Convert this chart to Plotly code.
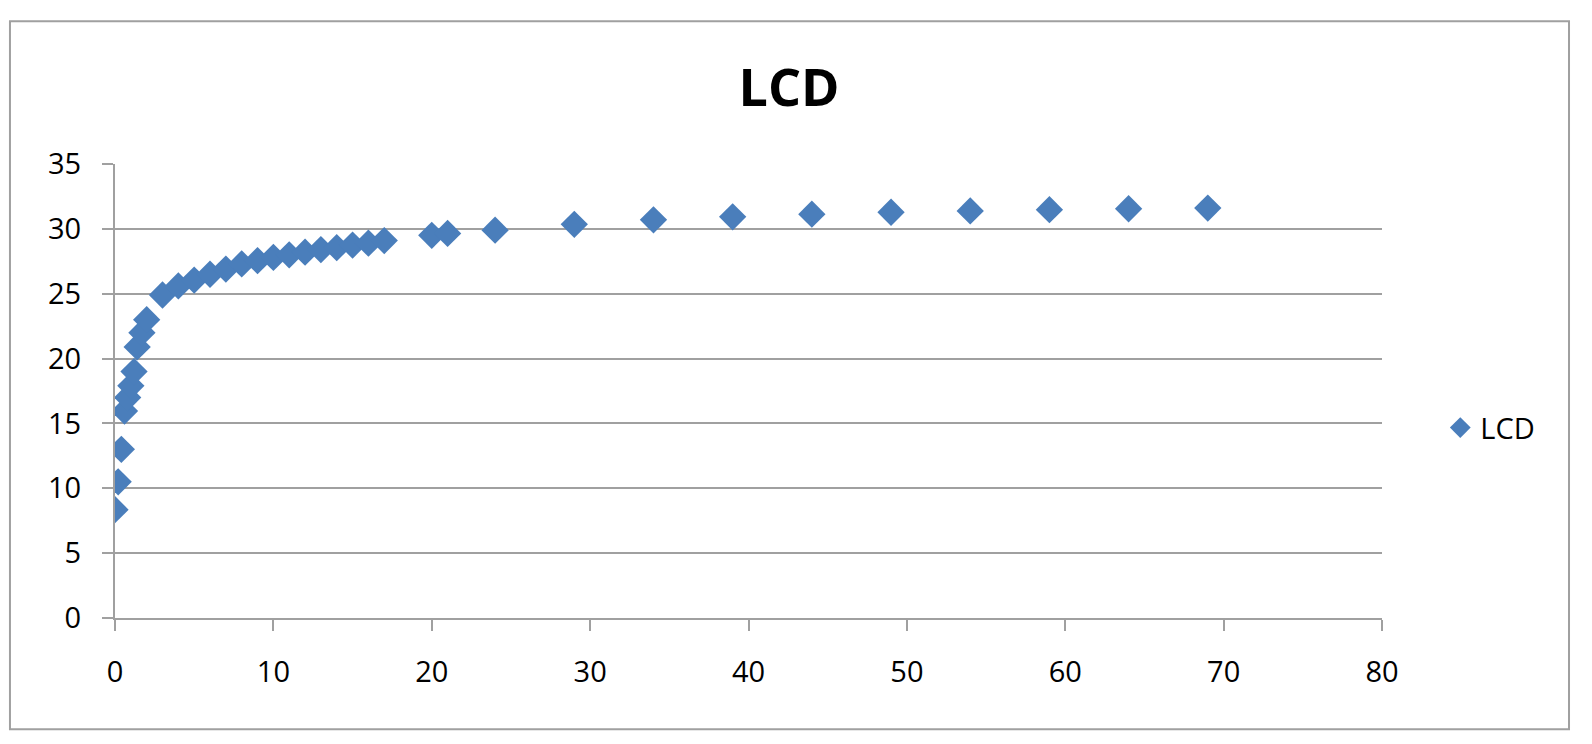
import plotly.graph_objects as go

# Values
time_x = [0, 0.2, 0.4, 0.6, 0.8, 1.0, 1.2, 1.4, 1.7, 2.0,
          3, 4, 5, 6, 7, 8, 9, 10, 11, 12, 13, 14, 15, 16, 17,
          20, 21, 24, 29, 34, 39, 44, 49, 54, 59, 64, 69]
lcd_y = [8.35, 10.5, 13.0, 15.95, 17.0, 17.9, 19.0, 20.9, 22.0, 23.0,
         24.9, 25.6, 26.05, 26.5, 26.9, 27.3, 27.55, 27.8, 28.0, 28.2, 28.4, 28.55, 28.75, 28.9, 29.1,
         29.5, 29.65, 29.9, 30.35, 30.7, 30.93, 31.13, 31.28, 31.38, 31.48, 31.55, 31.6]

x_ticks = [0, 10, 20, 30, 40, 50, 60, 70, 80]
y_ticks = [0, 5, 10, 15, 20, 25, 30, 35]

blue = "#4A7EBB"
grey = "#A0A0A0"
font = "Open Sans, Noto Sans, sans-serif"

fig = go.Figure()
fig.add_trace(go.Scatter(
    x=time_x, y=lcd_y, mode="markers", name="LCD",
    marker=dict(symbol="diamond", size=21, color=blue),
))

# page body adds an 8px margin, so the figure is sized to fit inside it
fig.update_layout(
    width=1576, height=728,
    margin=dict(l=107, r=202, t=156, b=118),
    paper_bgcolor="white", plot_bgcolor="white",
    font=dict(family=font, size=29, color="black"),
    title=dict(text="<b>LCD</b>", x=0.4956, y=0.891, xanchor="center", yanchor="middle",
               font=dict(family=font, size=52, color="black")),
    showlegend=True,
    legend=dict(x=1.046, y=0.419, xanchor="left", yanchor="middle",
                font=dict(family=font, size=29), bgcolor="rgba(0,0,0,0)"),
    xaxis=dict(range=[0, 80], tickvals=x_ticks, showgrid=False, zeroline=False,
               showline=True, linecolor=grey, linewidth=2,
               ticks="outside", ticklen=11, tickwidth=2, tickcolor=grey, ticklabelstandoff=16),
    yaxis=dict(range=[0, 35], tickvals=y_ticks, showgrid=True, gridcolor=grey, gridwidth=2,
               zeroline=False, showline=True, linecolor=grey, linewidth=2,
               ticks="outside", ticklen=11, tickwidth=2, tickcolor=grey, ticklabelstandoff=15),
)

# Outer chart border
fig.add_shape(type="rect", xref="paper", yref="paper",
              x0=-0.0829, x1=1.1476, y0=-0.2453, y1=1.3146,
              line=dict(color=grey, width=2), layer="below")

fig.write_html("out.html")
